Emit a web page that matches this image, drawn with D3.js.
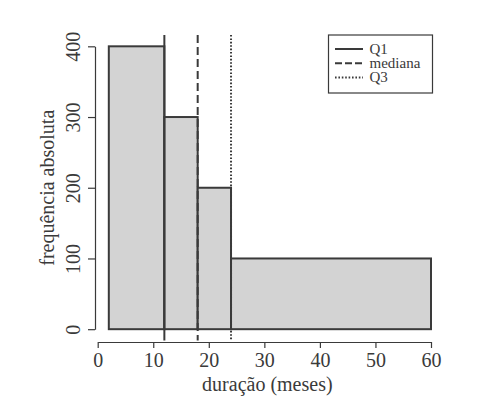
<!DOCTYPE html>
<html>
<head>
<meta charset="utf-8">
<script src="https://cdn.jsdelivr.net/npm/d3@7"></script>
<style>
  body { margin: 0; background: #fff; }
</style>
</head>
<body>
<div id="chart"></div>
<script>
// histogram classes (months) and absolute frequencies
const classStart = [2, 12, 18, 24];
const classEnd = [12, 18, 24, 60];
const freq = [400, 300, 200, 100];

// quartile reference lines
const qNames = ["Q1", "mediana", "Q3"];
const qValues = [12, 18, 24];
const qDash = [null, "8,4", "1.6,1.8"];

const xTicks = [0, 10, 20, 30, 40, 50, 60];
const yTicks = [0, 100, 200, 300, 400];

const W = 492, H = 398;
const ink = "#3a3a3a";
const serif = "'Liberation Serif', 'Times New Roman', serif";

const svg = d3.select("#chart").append("svg")
    .attr("width", W)
    .attr("height", H)
    .attr("font-family", serif);

// plot region roughly 97..432 x 35..341
const x = d3.scaleLinear().domain([0, 60]).range([97.7, 431]);
const y = d3.scaleLinear().domain([-16, 416]).range([340.5, 35]);

// bars
svg.selectAll("rect.bar")
    .data(freq)
    .enter().append("rect")
    .attr("class", "bar")
    .attr("x", (d, i) => x(classStart[i]))
    .attr("width", (d, i) => x(classEnd[i]) - x(classStart[i]))
    .attr("y", d => y(d))
    .attr("height", d => y(0) - y(d))
    .attr("fill", "#d3d3d3")
    .attr("stroke", ink)
    .attr("stroke-width", 2);

// vertical quartile lines, full height of plot region
svg.selectAll("line.q")
    .data(qValues)
    .enter().append("line")
    .attr("class", "q")
    .attr("x1", d => x(d)).attr("x2", d => x(d))
    .attr("y1", y.range()[1]).attr("y2", y.range()[0])
    .attr("stroke", ink)
    .attr("stroke-width", 2)
    .attr("stroke-dasharray", (d, i) => qDash[i]);

// x axis
const xAxis = d3.axisBottom(x).tickValues(xTicks).tickSize(6).tickSizeOuter(0).tickPadding(5);
const gx = svg.append("g")
    .attr("transform", "translate(0,342)")
    .call(xAxis)
    .attr("font-family", serif);
gx.select(".domain").attr("stroke", ink).attr("stroke-width", 1.2);
gx.selectAll(".tick line").attr("stroke", ink).attr("stroke-width", 1.2);
gx.selectAll(".tick text").attr("font-size", 20).attr("fill", ink);

// y axis (line only from 0 to 400)
const yAx = d3.scaleLinear().domain([0, 400]).range([y(0), y(400)]);
const yAxis = d3.axisLeft(yAx).tickValues(yTicks).tickSize(7).tickSizeOuter(0);
const gy = svg.append("g")
    .attr("transform", "translate(95,0)")
    .call(yAxis)
    .attr("font-family", serif);
gy.select(".domain").attr("stroke", ink).attr("stroke-width", 1.2);
gy.selectAll(".tick line").attr("stroke", ink).attr("stroke-width", 1.2);
gy.selectAll(".tick text")
    .attr("font-size", 20)
    .attr("fill", ink)
    .attr("x", 0).attr("dy", null)
    .attr("text-anchor", "middle")
    .attr("transform", "translate(-15,0) rotate(-90)");

// axis titles
svg.append("text")
    .attr("x", x(30) + 3)
    .attr("y", 391)
    .attr("text-anchor", "middle")
    .attr("font-size", 20)
    .attr("fill", ink)
    .text("duração (meses)");

svg.append("text")
    .attr("transform", "translate(54," + y(200) + ") rotate(-90)")
    .attr("text-anchor", "middle")
    .attr("font-size", 20)
    .attr("fill", ink)
    .text("frequência absoluta");

// legend
const lg = svg.append("g");
lg.append("rect")
    .attr("x", 328.5).attr("y", 35)
    .attr("width", 104).attr("height", 58)
    .attr("fill", "#fff")
    .attr("stroke", ink)
    .attr("stroke-width", 1.2);

const rowY = d3.scaleLinear().domain([0, 2]).range([49, 77.5]);
qNames.forEach((name, i) => {
    lg.append("line")
        .attr("x1", 335).attr("x2", 363)
        .attr("y1", rowY(i)).attr("y2", rowY(i))
        .attr("stroke", ink)
        .attr("stroke-width", 2)
        .attr("stroke-dasharray", i == 1 ? "7,3" : qDash[i]);
    lg.append("text")
        .attr("x", 369.5)
        .attr("y", rowY(i) + 4.5)
        .attr("font-size", 15)
        .attr("fill", ink)
        .text(name);
});
</script>
</body>
</html>
